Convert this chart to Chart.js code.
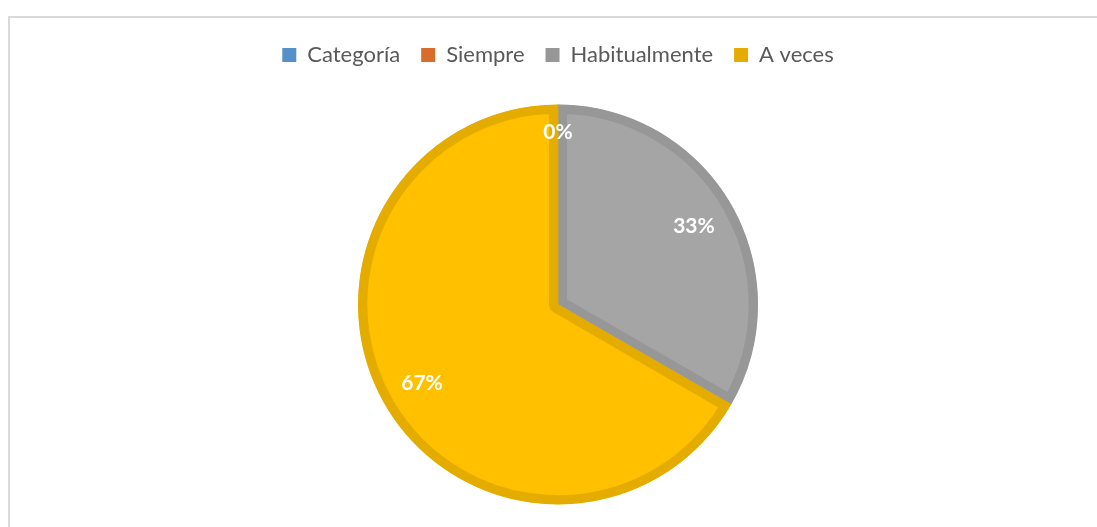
<!DOCTYPE html>
<html>
<head>
<meta charset="utf-8">
<script src="https://cdn.jsdelivr.net/npm/chart.js@4/dist/chart.umd.min.js"></script>
<style>
  html, body { margin: 0; padding: 0; background: #fff; }
  #wrap { position: relative; width: 1097px; height: 527px; overflow: hidden; }
  #frame { position: absolute; left: 8px; top: 16px; width: 1200px; height: 600px;
           border-left: 2px solid #D9D9D9; border-top: 2px solid #D9D9D9; box-sizing: border-box; }
  canvas { position: absolute; left: 0; top: 0; }
</style>
</head>
<body>
<div id="wrap">
  <div id="frame"></div>
  <canvas id="c" width="1097" height="527"></canvas>
</div>
<script>
const categories = ['Categoría', 'Siempre', 'Habitualmente', 'A veces'];
const values = [null, 0, 1, 2];
const fillColors = ['#5B9BD5', '#ED7D31', '#A5A5A5', '#FFC000'];
const edgeColors = ['#5590C8', '#D86C2A', '#979797', '#E5AC00'];

const legendExtra = {
  id: 'legendExtra',
  beforeInit(chart) {
    const lg = chart.legend;
    if (lg && !lg._patched) {
      const orig = lg.fit;
      lg.fit = function () { orig.call(this); this.height += 23; };
      lg._patched = true;
    }
  }
};

const labelPlugin = {
  id: 'pctLabels',
  afterDatasetsDraw(chart) {
    const ctx = chart.ctx;
    const meta = chart.getDatasetMeta(0);
    const data = chart.data.datasets[0].data;
    const total = data.reduce((a, v) => a + (v || 0), 0);
    ctx.save();
    ctx.font = 'bold 21px Lato';
    ctx.fillStyle = '#FFFFFF';
    ctx.textAlign = 'center';
    ctx.textBaseline = 'middle';
    meta.data.forEach((arc, i) => {
      const v = data[i];
      if (v === null || v === undefined) return;
      const p = arc.getProps(['x', 'y', 'startAngle', 'endAngle', 'outerRadius'], true);
      const mid = (p.startAngle + p.endAngle) / 2;
      const r = p.outerRadius * (v === 0 ? 0.86 : 0.785);
      const pct = Math.round(v / total * 100) + '%';
      ctx.fillText(pct, p.x + Math.cos(mid) * r, p.y + Math.sin(mid) * r);
    });
    ctx.restore();
  }
};

new Chart(document.getElementById('c'), {
  type: 'pie',
  data: {
    labels: categories,
    datasets: [{
      data: values,
      backgroundColor: fillColors,
      borderColor: edgeColors,
      borderWidth: 9,
      borderAlign: 'inner',
      hoverOffset: 0
    }]
  },
  options: {
    responsive: false,
    animation: false,
    events: [],
    radius: 200,
    layout: { padding: { top: 23, bottom: 17, left: 19, right: 0 } },
    plugins: {
      tooltip: { enabled: false },
      legend: {
        position: 'top',
        labels: {
          boxWidth: 14,
          boxHeight: 14,
          padding: 21,
          color: '#595959',
          font: { family: 'Lato', size: 22 },
          generateLabels(chart) {
            return chart.data.labels.map((l, i) => ({
              text: l,
              fillStyle: edgeColors[i],
              strokeStyle: edgeColors[i],
              lineWidth: 0,
              hidden: false,
              index: i,
              fontColor: '#595959'
            }));
          }
        }
      }
    }
  },
  plugins: [legendExtra, labelPlugin]
});
</script>
</body>
</html>
